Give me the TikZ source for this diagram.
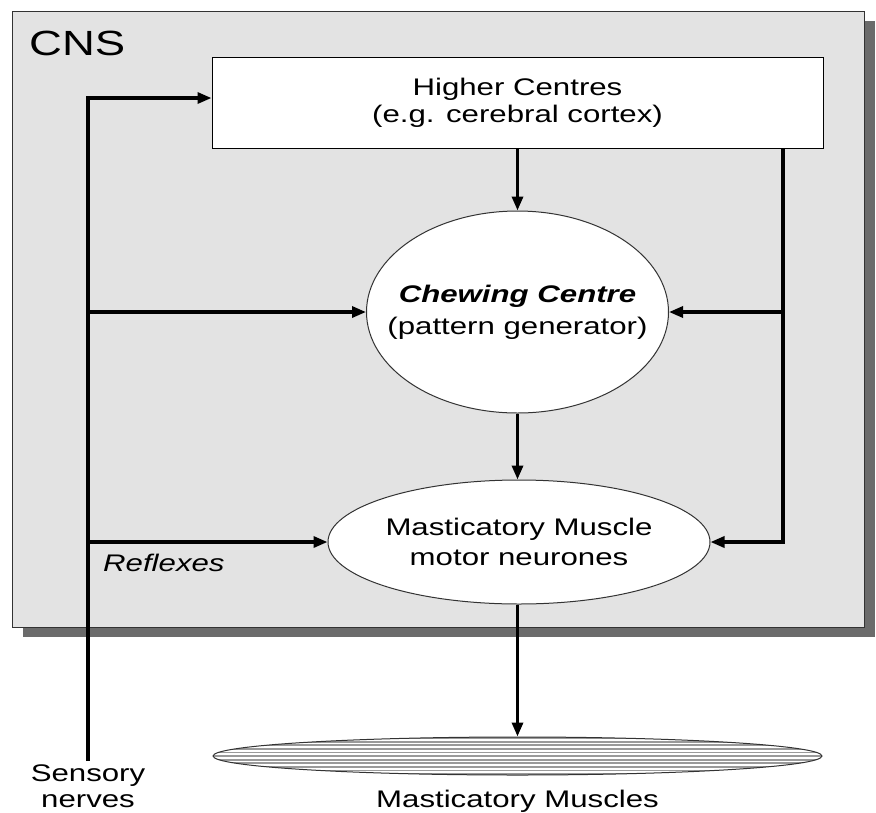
\documentclass[tikz,border=0pt]{standalone}
\usepackage{fontspec}
\setmainfont{Liberation Sans}[FakeStretch=1.3]
\usetikzlibrary{shapes.geometric,arrows.meta}
\definecolor{shadowgray}{HTML}{6B6B6B}
\definecolor{cnsgray}{HTML}{E3E3E3}
\definecolor{stripegray}{HTML}{9A9A9A}
\begin{document}
\begin{tikzpicture}[x=1pt,y=-1pt,
  txt/.style={font=\fontsize{24}{27}\selectfont, align=center, inner sep=0pt},
  conn/.style={line width=3.2pt, -{Triangle[length=14pt,width=11pt]}},
  oval/.style={ellipse, draw=black!80, line width=1pt, fill=white, inner sep=0pt}]
\useasboundingbox (0,0) rectangle (876,812);
% CNS box with shadow
\node[fill=shadowgray, minimum width=852pt, minimum height=616pt, anchor=north west, inner sep=0pt] (shadow) at (23,21) {};
\node[draw=black!80, line width=1.2pt, fill=cnsgray, minimum width=852pt, minimum height=616pt, anchor=north west, inner sep=0pt] (cns) at (12,11) {};
\node[font=\fontsize{35}{40}\selectfont, anchor=base west, inner sep=0pt] (cnslbl) at (29,55) {CNS};
% nodes
\node[draw, line width=1pt, fill=white, minimum width=611pt, minimum height=91pt, txt] (hc) at (517.5,102.5) {Higher Centres\\(e.g. cerebral cortex)};
\node[oval, minimum width=302pt, minimum height=202pt,
  label={[txt, font=\fontsize{24}{32}\selectfont]center:{{\bfseries\itshape Chewing Centre}\\(pattern generator)}}] (cc) at (517.5,312) {};
\node[oval, minimum width=382pt, minimum height=124pt,
  label={[txt, font=\fontsize{24}{30}\selectfont]center:{Masticatory Muscle\\motor neurones}}] (mn) at (519,542) {};
\node[oval, minimum width=609pt, minimum height=38pt,
  path picture={\foreach \k in {-5,...,5} \draw[stripegray, line width=1.8pt] ([yshift=\k*3.6pt]path picture bounding box.west) -- ([yshift=\k*3.6pt]path picture bounding box.east);}] (mm) at (517.5,756) {};
\node[txt, anchor=base] (mmlbl) at (517.5,807) {Masticatory Muscles};
\node[txt, anchor=base west, font=\fontsize{24}{27}\selectfont\itshape] (refl) at (103,571) {Reflexes};
\node[txt, anchor=base, font=\fontsize{24}{26}\selectfont] (snlbl) at (88,807) {Sensory\\nerves};
% coordinates
\coordinate (sn) at (88,761);
\coordinate (top) at (0,98);
\coordinate (rx) at (783,0);
% connectors
\draw[conn] (hc.south) -- (cc.north);
\draw[conn] (cc.south) -- (mn.north -| cc.south);
\draw[conn] (mn.south -| cc.south) -- (mm.north);
\draw[conn] (sn) |- (hc.west |- top);
\draw[conn] (cc.west -| sn) -- (cc.west);
\draw[conn] (mn.west -| sn) -- (mn.west);
\draw[conn] (hc.south -| rx) |- (mn.east);
\draw[conn] (cc.east -| rx) -- (cc.east);
\end{tikzpicture}
\end{document}
